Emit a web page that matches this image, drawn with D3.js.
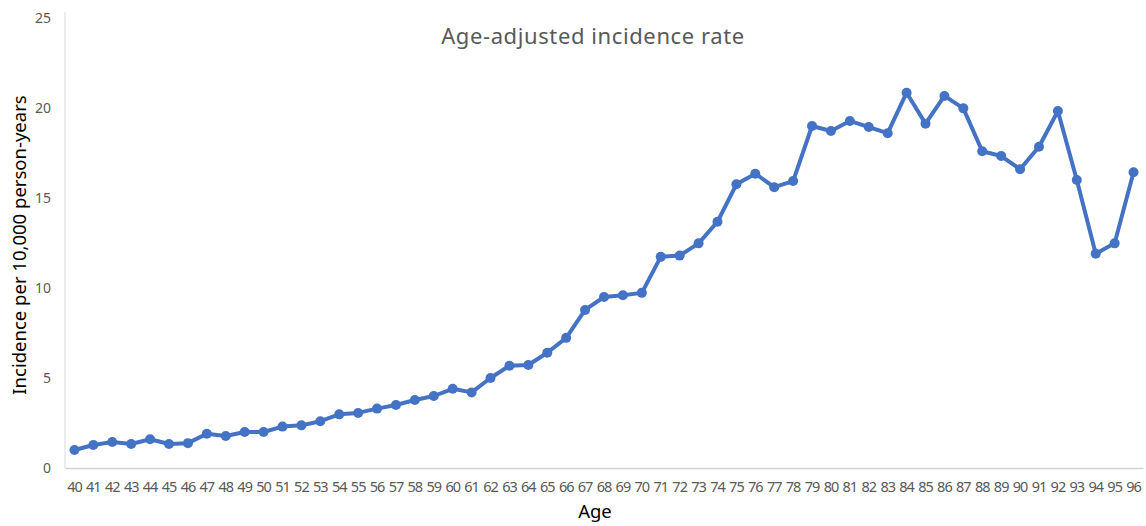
<!DOCTYPE html>
<html><head><meta charset="utf-8">
<script src="https://cdn.jsdelivr.net/npm/d3@7"></script>
<style>body{margin:0;background:#fff}svg{display:block}</style>
</head><body><svg id="c" width="1146" height="526"></svg>
<script>
const ages = d3.range(40, 97).map(String);
const rates = [1.0,1.28,1.44,1.33,1.6,1.33,1.38,1.9,1.78,2.0,2.0,2.3,2.37,2.6,2.98,3.06,3.3,3.5,3.78,4.0,4.4,4.2,5.0,5.68,5.72,6.4,7.23,8.78,9.5,9.6,9.73,11.73,11.8,12.48,13.68,15.76,16.35,15.6,15.94,19.0,18.72,19.28,18.94,18.6,20.85,19.13,20.67,19.98,17.6,17.33,16.6,17.85,19.83,16.0,11.9,12.48,16.43];
const yTicks = [0,5,10,15,20,25];
const title = "Age-adjusted incidence rate";
const yTitle = "Incidence per 10,000 person-years";
const xTitle = "Age";

const svg = d3.select("#c");
const m = {l:65, r:3, t:18, b:58};
const W = 1146, H = 526;
const x = d3.scaleBand().domain(ages).range([m.l, W - m.r]);
const y = d3.scaleLinear().domain([0,25]).range([H - m.b, m.t]);
const font = "'Noto Sans', 'Open Sans', sans-serif";

// axis lines
svg.append("line").attr("x1", m.l).attr("x2", m.l).attr("y1", 12).attr("y2", y(0))
  .attr("stroke", "#d9d9d9").attr("stroke-width", 1);
const xa = svg.append("g").attr("transform", `translate(0,${y(0)})`)
  .call(d3.axisBottom(x).tickSize(0).tickPadding(14));
xa.select(".domain").attr("stroke", "#d0d3d6").attr("stroke-width", 1.5);
xa.selectAll("text").attr("fill", "#595959").attr("font-size", 14.5).attr("font-family", font)
  .attr("letter-spacing", "-1px");

const ya = svg.append("g").attr("transform", `translate(${m.l - 14},0)`)
  .call(d3.axisLeft(y).tickValues(yTicks).tickSize(0).tickPadding(0));
ya.select(".domain").remove();
ya.selectAll("text").attr("fill", "#595959").attr("font-size", 14).attr("font-family", font);

// line
const line = d3.line().x((d,i) => x(ages[i]) + x.bandwidth()/2).y(d => y(d));
svg.append("path").datum(rates).attr("d", line).attr("fill", "none")
  .attr("stroke", "#4472c4").attr("stroke-width", 4).attr("stroke-linejoin", "round");
svg.selectAll("circle.pt").data(rates).join("circle").attr("class", "pt")
  .attr("cx", (d,i) => x(ages[i]) + x.bandwidth()/2).attr("cy", d => y(d)).attr("r", 5)
  .attr("fill", "#4472c4");

// titles
svg.append("text").attr("x", 593).attr("y", 44).attr("text-anchor", "middle")
  .attr("font-family", font).attr("font-size", 22).attr("letter-spacing", "0.6px")
  .attr("fill", "#595959").text(title);
svg.append("text").attr("transform", `translate(26,${245}) rotate(-90)`).attr("text-anchor", "middle")
  .attr("font-family", font).attr("font-size", 18.5).attr("fill", "#000").text(yTitle);
svg.append("text").attr("x", 595).attr("y", 518).attr("text-anchor", "middle")
  .attr("font-family", font).attr("font-size", 18.5).attr("fill", "#000").text(xTitle);
</script>
</body></html>
